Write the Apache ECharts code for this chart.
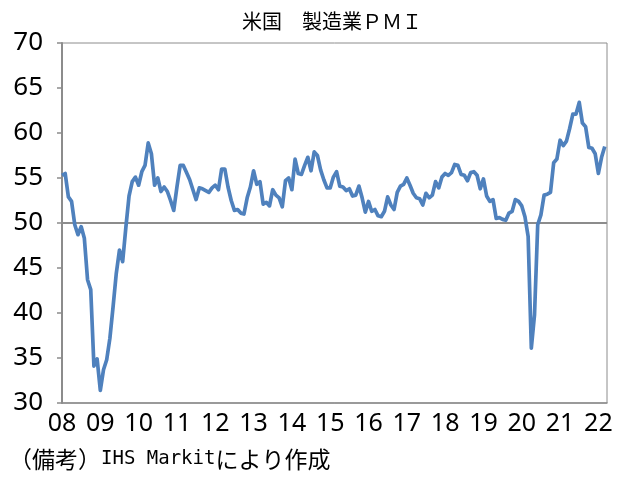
<!DOCTYPE html>
<html>
<head>
<meta charset="utf-8">
<script src="https://cdn.jsdelivr.net/npm/echarts@6/dist/echarts.min.js"></script>
<style>
  html, body { margin: 0; padding: 0; background: #fff; }
  #main { width: 638px; height: 483px; }
</style>
</head>
<body>
<div id="main"></div>
<script>
// 米国 製造業PMI（月次、2008年1月～2022年3月）
var pmi = [
  55.3, 55.5, 52.9, 52.4, 49.8, 48.7, 49.6, 48.3, 43.7, 42.6, 34.1, 34.9, // 08
  31.4, 33.7, 34.8, 37.2, 40.7, 44.4, 47.0, 45.7, 49.5, 53.0, 54.6, 55.1, // 09
  54.2, 55.7, 56.4, 58.9, 57.7, 54.2, 55.0, 53.5, 54.0, 53.5, 52.5, 51.4, // 10
  54.0, 56.4, 56.4, 55.6, 54.8, 53.7, 52.6, 53.9, 53.8, 53.6, 53.4, 53.9, // 11
  54.2, 53.7, 56.0, 56.0, 54.0, 52.5, 51.4, 51.5, 51.1, 51.0, 52.8, 54.0, // 12
  55.8, 54.3, 54.6, 52.1, 52.3, 51.9, 53.7, 53.1, 52.8, 51.8, 54.7, 55.0, // 13
  53.7, 57.1, 55.5, 55.4, 56.4, 57.3, 55.8, 57.9, 57.5, 55.9, 54.8, 53.9, // 14
  53.9, 55.1, 55.7, 54.1, 54.0, 53.6, 53.8, 53.0, 53.1, 54.1, 52.8, 51.2, // 15
  52.4, 51.3, 51.5, 50.8, 50.7, 51.3, 52.9, 52.0, 51.5, 53.4, 54.1, 54.3, // 16
  55.0, 54.2, 53.3, 52.8, 52.7, 52.0, 53.3, 52.8, 53.1, 54.6, 53.9, 55.1, // 17
  55.5, 55.3, 55.6, 56.5, 56.4, 55.4, 55.3, 54.7, 55.6, 55.7, 55.3, 53.8, // 18
  54.9, 53.0, 52.4, 52.6, 50.5, 50.6, 50.4, 50.3, 51.1, 51.3, 52.6, 52.4, // 19
  51.9, 50.7, 48.5, 36.1, 39.8, 49.8, 50.9, 53.1, 53.2, 53.4, 56.7, 57.1, // 20
  59.2, 58.6, 59.1, 60.5, 62.1, 62.1, 63.4, 61.1, 60.7, 58.4, 58.3, 57.7, // 21
  55.5, 57.3, 58.5                                                          // 22
];
var yearLabels = ['08','09','10','11','12','13','14','15','16','17','18','19','20','21','22'];
var yMin = 30, yMax = 70, yStep = 5;
var refLevel = 50;

var myChart = echarts.init(document.getElementById('main'));

var seriesData = pmi.map(function (v, i) { return [i, v]; });
var numFont = "'Noto Sans', 'Noto Sans CJK JP', sans-serif";

var option = {
    animation: false,
    backgroundColor: '#fff',
    title: {
        text: '米国　製造業ＰＭＩ',
        left: 237,
        top: 6,
        textStyle: {
            fontFamily: 'Noto Sans CJK JP',
            fontSize: 20,
            fontWeight: 'normal',
            color: '#000'
        }
    },
    grid: {
        left: 62, right: 31, top: 43, bottom: 80,
        show: true,
        borderColor: '#8c8c8c',
        borderWidth: 1
    },
    xAxis: {
        type: 'value',
        min: 0,
        max: 170.7,
        interval: 12,
        axisLine: { lineStyle: { color: '#8c8c8c', width: 1.5 } },
        axisTick: { show: false },
        splitLine: { show: false },
        axisLabel: {
            margin: 8,
            fontFamily: numFont,
            fontSize: 25,
            color: '#000',
            showMaxLabel: false,
            formatter: function (v) {
                return v % 12 === 0 ? (yearLabels[v / 12] || '') : '';
            }
        }
    },
    yAxis: {
        type: 'value',
        min: yMin,
        max: yMax,
        interval: yStep,
        axisLine: { show: true, lineStyle: { color: '#8c8c8c', width: 2 } },
        axisTick: { show: true, length: 5, lineStyle: { color: '#8c8c8c', width: 1.5 } },
        splitLine: { show: false },
        axisLabel: {
            margin: 19,
            fontFamily: numFont,
            fontSize: 26,
            color: '#000'
        }
    },
    series: [{
        name: 'PMI',
        type: 'line',
        data: seriesData,
        showSymbol: false,
        lineStyle: { color: '#4f81bd', width: 3.7, join: 'round' },
        z: 3,
        markLine: {
            silent: true,
            symbol: 'none',
            label: { show: false },
            lineStyle: { color: '#8c8c8c', width: 2, type: 'solid' },
            data: [{ yAxis: refLevel }],
            z: 2
        }
    }],
    graphic: [{
        type: 'text',
        left: 9,
        top: 448,
        style: {
            text: '{a|（備考）}{b|IHS Markit}{a|により作成}',
            rich: {
                a: { fontFamily: 'Noto Sans CJK JP', fontSize: 23, fill: '#000' },
                b: { fontFamily: "'DejaVu Sans Mono', monospace", fontSize: 19, fill: '#000' }
            }
        }
    }]
};

myChart.setOption(option);
</script>
</body>
</html>
